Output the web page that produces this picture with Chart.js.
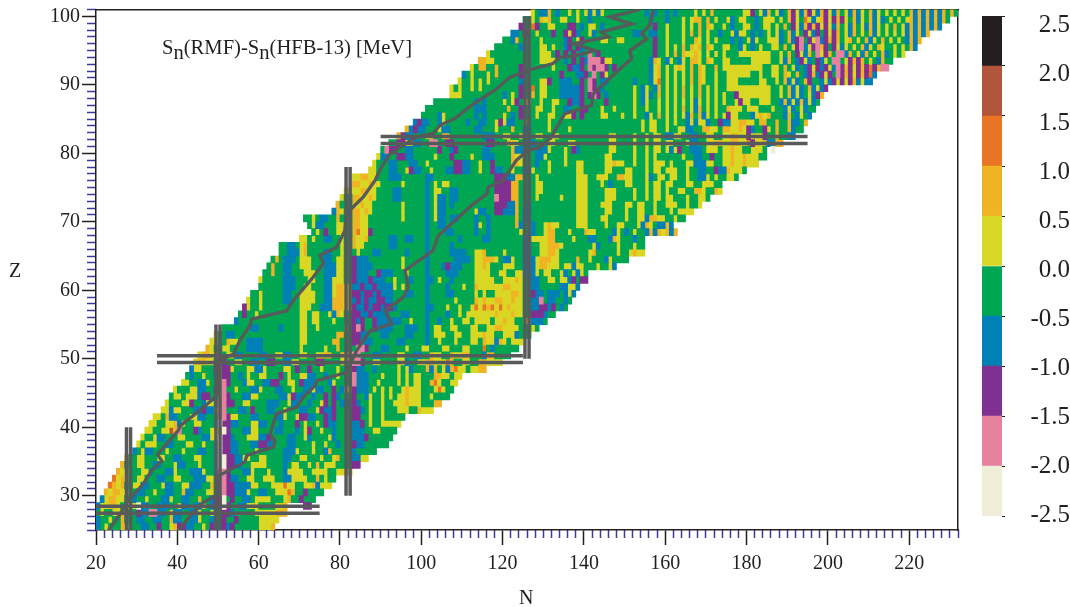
<!DOCTYPE html>
<html>
<head>
<meta charset="utf-8">
<title>Sn(RMF)-Sn(HFB-13)</title>
<script src="https://cdn.jsdelivr.net/npm/chart.js@4"></script>
<style>
  body { margin: 0; background: #fff; }
  canvas { position: absolute; top: 0; }
  #chartMain { left: 0; }
  #chartBar { left: 975px; }
  .lbl { position: absolute; font-family: "Liberation Serif", serif; color: #231f20; white-space: nowrap; line-height: 1; }
  .lbl sub { font-size: 1em; vertical-align: -5px; line-height: 0; }
</style>
</head>
<body>
<canvas id="chartMain" width="975" height="607"></canvas>
<canvas id="chartBar" width="95" height="607"></canvas>
<div class="lbl" style="left:162px;top:37px;font-size:20.6px" id="note">S<sub>n</sub>(RMF)-S<sub>n</sub>(HFB-13) [MeV]</div>
<div class="lbl" style="left:519px;top:587px;font-size:20px">N</div>
<div class="lbl" style="left:9px;top:260px;font-size:20px">Z</div>
<script>
// colour classes, lowest first
const classCodes = ["w", "p", "v", "b", "g", "y", "o", "r", "s", "k"]
const classEdges = [-2.5, -2.0, -1.5, -1.0, -0.5, 0.0, 0.5, 1.0, 1.5, 2.0, 2.5]
const classColors = ["#f0eed8", "#e5829f", "#7f3090", "#0080b4", "#00a651", "#d8d824", "#f0b323", "#e87524", "#b1553b", "#231f20"]

const firstZ = 25
// one row per Z: "Nc" means class c starts at neutron number N, "_" is an empty cell
const rowRuns = [
"20b 21g 22y 23g 26o 27y 28g 31b 33g 35v 36g 38y 39o 40v 42b 44g 46y 47g 48v 49g 50b 51v 52b 53v 54g 60y 63o",
"20b 21g 23y 24g 26o 27g 30b 32g 34b 36g 38o 39b 41g 43b 45y 46g 48b 49g 51v 52g 54v 55g 60y",
"20g 21y 22g 24y 26o 27g 30v 31b 33p 35b 37g 38o 39b 41g 43b 45y 46g 48y 49g 51v 53b 54g 59y 64o",
"20b 21y 23o 25y 26g 27o 28y 30w 31b 33g 35b 38g 40o 41b 43g 44b 46o 47g 48b 49v 51w 52v 53g 55b 57y 60g 64y 66o 67_ 71v",
"21b 22y 23o 25y 27g 29b 30g 32y 33g 36b 38y 39g 41b 43g 45o 46g 48b 49v 51w 52g 53v 54g 56b 58g 59y 63g 66y 67o 68g 70v 71g",
"22o 23y 24o 26y 28g 30b 32g 34y 35g 37b 39g 41o 42b 44g 47y 49g 50p 52v 54b 57y 58g 60b 62g 64y 67r 68o 69g 71v 72g",
"23r 24o 25y 26o 27g 29y 31b 33g 36y 37b 39g 41y 43b 46g 48o 49g 50p 52v 54b 58y 60g 63y 66r 67y 69g 71y 73o 74b 75y",
"24r 25y 26o 27y 28g 30y 32g 35b 37g 39y 41g 44b 47y 49g 50p 52v 53b 55g 57y 59g 61y 64g 66b 68y 72g 74o 75g 76y 77g",
"25o 26y 27o 28g 31y 33b 34g 37b 39y 40g 43b 46y 47g 49b 50p 52v 53g 56b 58y 59g 62y 63g 66b 67y 71g 73y 77g 79y 81o",
"26o 27g 30y 32g 34b 36g 39y 40b 42g 45y 46g 49b 50w 52v 54b 56g 58y 62g 66b 67g 68y 70g 72y 73g 74o 75g 76y 79g 83v",
"27y 28g 30y 32g 35y 37g 39b 41g 44y 46g 49b 50w 52v 54b 56y 58g 60y 62g 66b 68g 70y 72g 75y 76g 78y 79o 80g 83b 85y",
"29b 30g 31y 32b 34g 37y 38g 41y 42g 45b 47g 49b 50w 51v 53b 55g 59y 60g 66b 69y 70g 73y 74g 76b 77o 78g 83b 84g",
"30y 31g 32y 35g 37b 39g 42y 44g 46y 47g 49b 50w 51v 53b 55g 58b 60v 62b 64g 67b 69g 73y 74g 76y 77g 79b 80g 83v 84b 86g",
"31y 32g 34y 35b 37g 40y 42g 46b 48y 50w 51v 53b 54g 57y 60b 62v 63g 67b 69g 71y 72b 73g 77y 78b 79g 83b 86v 87g",
"32y 34g 36y 38s 39o 40p 41g 44v 45b 46g 48y 50o 51w 52v 53g 56b 58y 60g 64b 66g 69b 70g 71y 72v 73g 75y 76g 78b 79g 83b 86g 88y 90g",
"33y 35g 37y 39o 40b 41y 42g 44y 46g 49b 50w 51v 53b 55g 58y 60b 62g 65b 66g 69v 70g 71y 72g 74y 75g 76v 77b 79g 83b 85v 86g 87y 88g 90y",
"34y 36g 37o 38b 40g 43y 45b 47g 50p 52v 53y 55g 58b 60g 64b 66y 67g 69y 70v 72b 74g 76v 77b 78v 79g 83v 85g 87y 88g 90y 91g",
"36y 38b 39y 41g 44b 46v 47b 49y 50p 52g 55b 57g 58v 59g 62b 64g 66y 67g 70b 72g 74y 75v 76b 78v 79g 83v 85b 86g 87y 88g 90y 91g 94y 97g 99o 100y",
"37y 38g 41y 43v 44g 46b 47y 49g 50p 52v 54g 56y 58g 62b 65g 67y 68b 70g 72b 73g 75y 76v 77g 78v 79g 80b 83v 84b 85g 87y 88g 90y 91g 93y 96o 97y 100g 103o",
"38g 39y 41g 42y 45b 46v 48g 50o 51p 52v 53g 56b 58y 60g 65b 67y 68v 69b 71g 73b 74g 76v 77g 78v 79b 80g 83v 84g 86b 87y 88g 90y 91g 92y 93g 94y 96o 97y 100g 102y 103g",
"39y 40g 43y 45b 47g 49v 50o 51p 52g 54y 55g 58b 60y 61g 64b 66g 68y 69g 71b 73y 74b 76g 78v 79g 80b 81y 83v 84b 87g 88y 89g 90y 91g 92y 93g 95y 96o 97y 100g 103y 104r 105y 106g",
"41y 43g 45b 47y 48g 50o 51p 52v 53g 56b 57y 59g 61b 63v 65g 67y 69g 70v 71b 74g 77b 78y 79g 83p 84b 87g 89y 90g 94y 95g 96y 97g 98y 100g 102o 103r 104y 105g 107y",
"42g 43b 44g 46y 47g 49b 50o 51v 53g 55b 56g 57y 58g 60y 62g 65v 66g 67y 68g 70y 72b 74g 76b 77g 79y 80g 83p 84b 87g 90y 91g 94y 95g 96y 97g 98y 100g 103o 105y 107g 108y",
"43b 44y 46g 49v 50o 51v 53y 54g 57y 59b 61y 62g 66y 68g 69v 70g 72v 73g 75y 76g 79y 80g 83v 84b 86g 88b 89g 94y 95g 96y 97b 98g 101o 102b 103o 104g 105y 106b 107o 108r 109y 111g 112y 114o",
"44y 45o 47y 49b 50v 52g 54y 56g 58b 60g 62v 64g 66b 68y 70g 74v 76g 80y 82o 83p 85v 86g 88y 90g 94y 96b 97g 99y 101o 103y 106r 107o 108g 110y 112g 114o 116y",
"45y 46o 48y 50g 52y 54b 56g 60b 62g 64y 66b 68g 70y 72g 74y 76o 78g 80o 82y 83p 85g 88b 90g 94y 96g 98b 100g 102o 103y 105g 107o 108y 110o 112g 115b 116o 118g",
"47o 48y 49g 51y 53g 57b 61g 70y 71g 76y 77g 79o 80g 83g 84p 86v 87g 90b 92g 96y 97g 100y 102g 105y 107g 110y 112g 115r 116g 117b 118g",
"48y 50g 52o 53y 55g 57b 61g 70y 72g 78o 80g 83v 85g 86b 88g 94b 96g 101b 102g 104y 105g 108y 109g 112y 114g 115o 116y 118b 119o 120y 121g 122y",
"49y 50g 52b 54g 70y 72g 79o 81g 83v 85b 87g 90b 92g 96b 98g 101b 102g 103y 106g 108y 110g 112y 115o 116y 118g 120y 123b 124g",
"51g 58b 60g 65b 66g 70y 72g 74y 75g 81o 82g 83v 84p 85v 86g 88v 89b 93g 96b 99g 101b 102g 103y 105g 107y 109g 112y 114g 116y 118o 120y 124g 127y 128g",
"54b 55g 70y 72g 73y 75g 78y 79g 83v 84b 85v 86g 88v 89b 95g 97y 98g 101b 102g 104b 105g 107y 108g 110y 112g 113y 117g 118y 120o 121y 123g 125o 127b 130g",
"55g 56v 57g 59y 60g 70y 72g 73y 75g 77y 78b 79o 80y 81g 83v 85b 87v 88b 92g 95b 97g 101b 102g 106b 107g 109y 110g 111y 118o 119y 122o 123y 125g 127v 130b 131g",
"56v 57y 58g 60y 61g 70y 73g 75b 78o 81y 83v 84b 86v 87b 88v 90b 91v 93b 94g 101b 103g 106y 107g 109y 110g 112y 113r 114y 115r 116o 117r 118y 119r 120y 121o 122y 125g 127b 129v 131b 132v 133g 134b 135g",
"57y 58g 60y 61g 66b 68g 70y 74g 76b 78o 81y 83b 84v 85b 86v 87b 89v 91b 93g 101b 102g 108y 109g 113o 114y 115o 116y 118o 120y 122o 123y 125g 127b 129p 130g 131b 133g 135b 136g",
"58g 60y 61g 66b 68g 70y 74g 76b 78y 79o 81y 83v 85b 86v 88b 89v 90b 93g 96b 98g 101b 102g 106b 108g 113y 114g 115y 116g 118y 122o 124y 125g 127v 128b 130g 131b 134g 135b 136y 137b",
"60g 66b 69g 71y 73g 76b 78y 79o 81y 83b 85v 86b 88v 89b 93y 94g 95y 96g 101b 102g 106b 107g 110y 111g 113o 114y 120o 122y 125g 127b 129g 134b 136y 138b",
"60y 61g 66b 69g 72y 74g 76b 78y 81g 83v 84b 87v 88b 91g 93y 94g 97b 98g 101b 103g 104y 105g 107b 108g 113y 118g 120y 123o 124y 125g 127b 129g 131y 133g 134y 136b 137v 138g 139v",
"61g 63o 64g 66b 68g 71y 74g 76b 79y 81g 83v 84b 87g 89v 90b 93g 96y 97g 101b 102g 106b 109g 113y 117g 119y 121g 123y 125b 128y 129g 130y 132g 134y 135b 136g 137y 138b 139y 140g",
"62g 63o 64g 66b 68g 70y 73g 76b 79y 81g 83v 84b 88g 95y 96g 101b 102g 105b 106v 107b 110g 113y 115o 116y 117g 120y 123g 125b 128y 129o 131y 134g 135y 137b 138y 140g 143y 144g 146y 147b",
"63g 64o 65g 66b 69g 70y 73g 76b 78g 79y 81g 83v 84b 87g 95y 96g 101b 102g 108b 112g 113y 115o 118y 119g 120b 122y 123g 125b 128y 129o 132y 134g 138o 139g 141y 142g 145b 146y 147g",
"65g 67b 70y 71o 72g 76b 78g 80y 81g 84y 85g 88b 90g 96b 97g 101b 102g 107b 111g 113y 115o 116g 120y 121g 125b 127g 129y 131o 133y 134g 141y 142o 143g 148y 149g 151y 152o 153y",
"65g 67b 69g 70y 71o 72g 80y 81g 83o 84y 86g 92b 94g 101b 102g 107b 108g 125b 127g 129y 131o 134y 135g 142y 143b 144g 148y 149g 152y 153g",
"70y 72g 73y 74g 76b 78g 80y 81g 83o 84y 86o 87g 92b 94g 96b 98g 101b 102g 109b 110g 115b 117g 125b 127y 131o 133g 137y 138g 141b 143g 146b 147o 148y 149g 152b 153g",
"73g 74y 75g 76v 77g 79y 81g 83o 84r 85y 87v 88g 101b 102g 106b 108g 113b 114g 116b 117g 124y 125g 127b 128g 130y 131o 133g 136y 137g 140o 141y 143g 147b 148y 149g 150b 151g 152y 153g 155b 156o 157b 158o 159y 160o 161b 162o",
"72g 73y 74b 76g 79y 81g 83o 85y 87g 101b 102g 104b 106g 113b 114y 115g 116b 117g 123o 124b 125g 127b 128g 130y 131o 132y 134g 138y 141g 145y 146g 148y 150g 153y 154b 155o 156y 157g 158b 160o 161b",
"71g 73y 74g 75b 77g 79o 80g 83o 85y 87g 95y 96g 101b 102g 103y 104b 106g 107b 109g 113b 114g 116b 117g 123o 124g 125b 127g 138y 141g 144y 146g 150y 151g 153y 155b 156o 158y 160g 162y 163g",
"78b 79o 80y 81g 83o 85y 86o 87y 88g 95y 96g 101b 102g 103y 104b 106g 113y 114b 116g 118v 120b 123o 124g 125b 127g 138y 141g 145y 147g 150y 151g 153y 155g 157y 158g 161y 162g 163y",
"79o 80g 83o 84y 85o 86y 88g 95y 96g 101b 102g 103y 104b 106g 107b 108g 118v 121b 123o 124g 126b 127g 138y 141g 144y 147g 150y 152g 153y 155g 157y 158g 160y 163g 165y 166g 168y",
"80y 81g 83o 85y 87o 88y 89g 93b 95g 101b 102g 103y 104b 106g 107b 109g 118p 119v 122o 124g 128y 129g 134y 135g 138y 141g 145y 148g 152y 153g 155y 156g 157y 159g 160y 162g 165y 166g 168y 170g",
"81y 82o 83y 85o 87y 89g 93b 95g 101b 102g 103y 105g 107b 109g 118v 122o 124g 128y 130g 138y 141g 145y 148g 152y 153g 155y 156g 157y 159g 160y 161g 163y 165g 167o 169y 170g 172o 173y",
"83o 85y 87o 88y 90g 95y 96g 101b 102g 103y 104g 105y 107g 118v 122o 124g 128y 130g 138y 141g 144y 145g 146b 147g 150y 152g 155y 156g 157y 159g 160y 162g 165y 167g 169y 172g",
"83y 85o 87y 89g 92b 95g 101b 103g 118v 121b 123o 125g 128y 129g 134g 138y 141g 143y 146g 148o 150y 152g 155y 156b 157g 158y 160g 161y 163g 165y 166g 168b 170y 171g 172y 173g 175y 177g",
"87y 89g 92b 94g 96y 97v 98b 100g 102y 103g 106b 108v 110b 112g 114y 115g 117v 118b 120g 122y 123g 125b 127y 128g 131y 132g 138y 140g 145y 147g 150y 152g 155y 156g 157y 159g 160y 163g 165y 166g 168b 170g 172v 173b 175o 176y 179g",
"88y 89g 92b 94g 97b 99g 101y 102g 105g 108v 110b 112g 114y 115g 117v 118g 122o 124y 125g 128b 129g 131y 132g 135y 136g 138y 140g 145y 147o 148y 150g 152y 153g 155y 156g 157y 160g 161y 162g 165y 167b 170y 172g 174y 176o 177y 179o 180y",
"89y 90b 92g 94v 96b 98g 103y 104g 107v 108g 112y 113g 115b 118g 122o 123y 125g 128b 130y 131g 135y 136g 145y 147g 152y 153g 155y 156g 157y 158g 161g 164y 165g 167b 169g 171v 172g 174y 176o 177y 179o 180y 183g",
"90g 91p 92v 94g 96b 98g 104v 105g 107b 108v 109g 115b 117g 122o 123b 125g 128b 131y 132g 135y 136g 137v 138b 139g 146y 148g 152y 153g 155y 156g 157y 159g 160y 161b 162y 163v 164g 166b 169g 170y 173g 174y 176o 177y 179g 181y 184g 185_ 186w",
"92g 94v 96y 98b 100g 102p 104g 106v 108g 116v 118g 121o 122y 124g 126b 128g 131y 133g 136y 138g 146y 148g 152y 153g 155y 156g 157y 159g 160y 162g 165y 166b 168g 170y 172o 174y 176o 178y 180r 181v 182y 184o 185b 187o",
"94o 95v 96b 98g 101y 103g 105o 107g 115b 118g 120y 122g 124o 125g 128y 130g 132y 134g 146y 148g 152y 153g 155y 156g 157y 159g 160b 162y 164g 166b 168g 170y 172g 174y 176o 178y 180v 181y 184v 185g 187o 188g 190b",
"96o 97b 98v 99b 101g 104y 105b 107g 113b 115g 118y 119g 122o 123g 125b 127g 131y 132g 136y 137g 154y 155g 156y 158g 160y 161g 163y 165b 167g 169o 171y 173g 174o 176y 178o 179y 180v 181b 182g 184v 185y 186g 187o 188g 190o 191b 192g",
"98b 99v 100b 102g 104b 105y 106g 111b 112g 114b 116g 118y 119v 120y 121b 123g 125o 126g 131y 132g 142g 154y 155g 156y 158g 160y 161g 162y 163g 165b 166y 167b 168y 170b 171g 173v 174b 176y 178o 180y 182g 183o 185g 187o 188g 190o 191b 193g 194o",
"100g 104b 105y 106g 113b 114g 115b 116g 120y 121g 122b 123g 124v 125g 128y 129g 131y 133g 135y 137v 138g 139v 140g 144y 146g 149y 150g 152y 153g 155b 156y 157g 158o 159g 160y 161g 162y 163g 164y 165b 166o 167g 168o 169b 170y 171g 172y 173g 174y 175v 176y 178g 181b 182y 183o 184y 185o 186g 189b 190o 191g 192b 193y 194g 195b",
"101g 113b 116g 121o 122g 124v 125g 128y 130g 132y 133g 135b 137g 139v 141g 144y 145g 147y 148g 152y 153g 155y 156g 158y 159g 160y 161g 162y 163g 164o 165g 166y 167b 168o 169g 170y 171g 172y 173g 175o 176y 179g 180y 183g 186y 187g 189b 190y 191b 192g 193y 194b 195g",
"103g 113b 114g 115b 116g 120y 121g 122y 123v 124g 125o 127g 129y 130g 132y 134g 136v 137b 139v 140g 145v 146g 152y 153g 154b 155y 156g 158y 159g 160y 161g 162y 163g 164y 165g 166y 167b 168y 169g 170y 171g 172y 173g 174y 175g 177y 178v 179y 181g 183y 186g 188b 189o 190b 191y 192b 193o 194b 195y 196b 197g",
"107y 110g 120b 121g 122y 123g 124v 125g 127o 128g 129y 131g 134b 139v 140g 141v 142p 143v 144g 145b 146g 152y 153g 154b 155y 156b 157g 158o 159g 160y 161g 162y 163g 164o 165g 166y 167g 168o 169g 170y 171g 172y 173g 174y 175g 177v 178y 186g 188y 189g 190o 191b 192y 193b 194g 195y 196b 197v 198o",
"107y 108g 109y 110g 112y 113g 114y 115g 124v 125g 127r 128g 129y 131g 134b 139v 140g 141p 142v 143g 144b 145g 152y 153g 154b 155y 156g 157b 158o 159g 160y 161g 162y 163g 164o 165g 166y 167g 168o 169g 170y 171g 172y 173g 175y 186g 188y 189g 190o 191b 192y 193b 194g 195o 196b 197y 198b 199v",
"109y 110g 112y 113g 114y 115g 116y 117g 124b 125g 129y 131v 132g 134b 137g 139v 140g 141p 142v 143g 144b 146g 152b 153g 156b 157y 158r 159g 160y 161g 162y 163g 164y 165g 166o 167g 168o 169y 170g 172y 173g 175y 178g 183y 185g 187y 188g 189o 190b 191y 192b 193g 194o 195v 196g 198b 199y 200b 201v 202y 203v 204y 205v 206o 207b 208y 209b",
"110b 111g 112y 113g 116y 117g 118o 119g 124v 125g 134v 135g 138b 140v 141g 142p 143g 144v 145y 146g 156b 157y 158o 159g 160y 161g 162y 163g 164y 165g 166o 167g 168o 169y 170g 172y 173g 175y 181g 183y 184g 186y 188g 189o 190y 191g 192o 193g 194b 195v 196o 197b 198v 199y 200v 201g 202p 203v 204o 205v 206y 207v 208o 209v 210r 211b",
"112y 113g 114o 116g 118o 119g 124v 125g 132y 133g 136v 137b 139v 140g 141p 142v 143p 145v 146g 147v 148g 156b 157y 158o 159g 160y 161g 162y 163o 164y 165g 166o 167g 168o 169y 170g 172o 173g 174y 181y 184g 186y 188g 189o 190g 191y 192b 193g 194b 195v 196y 197v 198b 199v 200y 201b 202p 203v 204o 205v 206y 207v 208o 209v 210r 211v 212o 213p",
"114o 116y 118g 129y 133g 135b 136g 137v 138g 139v 140b 141p 144v 145y 147g 156b 157o 158y 159g 160b 161y 162g 163b 164y 165g 166o 168y 169g 170o 171y 172g 174y 176g 181y 186g 188y 189b 190o 191g 192b 193v 194y 195b 196g 197v 198b 199y 200g 201p 203g 204y 205v 206o 207v 208o 209g 210y 211g 212b 213o 214g",
"116y 117g 129y 132g 133v 134g 135v 136g 137v 138g 139b 140g 141p 142g 143v 144g 157v 158g 160y 161g 162o 163g 164o 165y 167o 168y 169g 170y 171g 172y 173g 174y 175g 178y 186g 188y 189g 190o 191g 192v 193y 194b 195o 196g 197p 198y 199v 200o 201g 202p 204b 205o 206g 207y 208b 209o 210g 211y 212g 213o 214b 215g 216y 217g 218y",
"118g 124b 125g 129y 131g 132y 133g 135b 136v 137g 138v 139b 140g 157v 158g 160y 161g 162y 163g 164o 165g 166o 167y 168o 169g 170o 171y 172g 174y 176g 178b 179y 180g 181b 182g 183y 184g 186y 188g 189o 190g 191y 192v 193p 194b 195y 196v 197p 198o 199v 200g 201v 202y 203b 204y 205g 206y 207g 208o 209b 210y 211g 212o 213y 214g 216y 217g 218y 219g 220o 221b",
"120g 122b 123o 124g 129y 130g 135b 136v 137g 138y 139v 140g 144y 146g 148y 150g 157v 158g 160y 161g 164y 165g 167o 168y 169g 170y 171g 172y 173g 176b 177g 178b 179g 180y 181b 182y 183g 185y 188b 189g 190o 191b 192v 193p 194g 195v 196y 197p 198b 199v 200o 201v 202o 203g 204y 205o 206g 207y 208g 209o 210b 211y 212g 213o 214g 215y 216g 217y 218g 219b 220o 221b 222o",
"122b 124g 125v 126g 128y 129g 132v 133g 135v 136y 137v 138b 139g 141y 142b 143g 152b 154g 156b 158g 160y 161g 164y 165g 166o 167g 168o 169g 170y 171g 173b 174g 176y 177b 178y 180g 181b 182g 183b 184g 185y 186g 187y 188b 189g 190o 191b 192y 193g 194v 195y 196b 197v 198g 199v 200y 201v 202o 203g 204y 205b 206o 207g 208y 209g 210o 211b 212y 213g 214y 215g 216y 217g 218y 219b 220o 221b 222o 223b 224o",
"124v 125g 127r 128v 129g 131y 133g 136v 138g 139b 140g 141y 143g 144b 145g 157v 158g 160y 161g 164y 165g 166y 167g 168o 169g 170o 171y 172g 174y 175g 176b 177g 179y 181g 182b 183g 184y 186g 187y 188g 189o 190g 191v 192y 193b 194o 195v 196o 197v 198y 199v 200y 201b 202o 203g 204y 205b 206o 207g 208y 209b 210o 211b 212y 213g 214y 215g 216o 217g 218y 219b 220o 221b 222o 223b 224o 225b 226o 227b",
"125g 127y 128g 129o 130y 131o 132g 134y 136g 138y 139g 141b 142g 156b 157g 160b 161g 164y 165g 166y 167o 169g 170o 171g 172y 173g 175y 176b 177g 178y 180g 182b 183g 184y 187g 188y 189g 190o 191v 192y 193g 194r 195y 196b 197y 198o 199v 200y 201v 202o 203v 204y 205g 206o 207b 208y 209g 210o 211b 212y 213b 214g 215y 216g 217y 218g 219y 220o 221b 222o 223b 224o 225b 226o 227b 228o 229g",
"127y 128g 129b 131o 132g 133b 134g 136y 137g 138y 139g 140y 141b 142y 143b 144y 145g 155b 156g 157b 158g 160b 161g 162b 163g 167y 168g 169y 170g 171o 172g 179y 181v 182g 183y 184b 185o 186g 187y 188b 189g 190o 191v 192y 193b 194o 195v 196y 197b 198o 199v 200y 201b 202o 203g 204y 205b 206o 207b 208y 209g 210o 211b 212y 213g 214y 215g 216y 217g 218y 219g 220o 221b 222o 223b 224o 225b 226o 227b 228o 229g 230o 231g"
]
// neutron number where each row stops
const rowEnds = [64,65,67,73,74,76,78,79,83,85,87,89,92,93,94,95,96,103,105,107,108,109,110,116,120,122,124,125,127,129,131,133,136,137,138,139,141,141,148,151,155,155,155,163,162,165,167,169,171,174,174,178,180,183,185,187,189,192,194,195,196,197,198,199,200,211,212,215,216,219,222,223,225,228,230,232]

// the two curves, as [N, Z]
const curveUpper = [[23,24.9],[25.9,27.3],[27.9,29.3],[31.6,31.7],[33.7,33.7],[36.2,35.1],[35.1,36],[37.4,37.6],[40.2,39.5],[40.7,40.2],[43.9,41.7],[48.8,44.1],[49.8,44.8],[50.1,48.8],[51.3,50],[53.8,50.7],[55.4,52.7],[57.9,54.9],[58.3,55.8],[66.9,57],[68.5,58.5],[73.4,61.9],[75.9,63.9],[75.1,65.1],[79.2,66.3],[81.2,68.7],[81.6,71.2],[85.7,73.6],[88.6,76],[90.2,78],[92.3,79.9],[95.6,81.2],[98.9,82.4],[102.9,82.9],[104.6,84.1],[108.3,85.1],[112.8,87.2],[118.5,89.4],[121.8,91.1],[126.7,92.2],[132.4,93.1],[134.1,94],[137.4,94.2],[142.7,95],[137.4,96],[146,97],[144.3,97.7],[151.7,98.9],[146.4,99.9],[153.8,101]]
const curveLower = [[40.2,24.9],[43.5,27.3],[46.4,29],[50.1,30.3],[50.1,32.9],[56.6,34.9],[57.1,35.9],[63.6,37.1],[64,38.1],[62.8,39],[64.4,42],[69.3,42.9],[71,44.4],[73.9,46.1],[74.3,46.8],[81.6,48],[84.1,51.2],[87.4,54.1],[92.7,55.1],[91.1,57],[95.6,59],[96.8,60.5],[96,62.9],[102.9,65.8],[104.2,68],[108.3,70.2],[112.4,72.4],[116.1,74.1],[116.5,75.1],[120.1,76],[123.4,79],[126.3,80.4],[129.2,80.9],[132,82.4],[135.3,85.8],[141.9,87],[142.3,88.7],[148.4,92.1],[151.7,93.8],[151.3,95],[155.4,96.7],[154.2,97.5],[156.2,98.7],[157,101]]

// magic number double lines: [Z, N from, N to] and [N, Z from, Z to]
const magicZ = [[28.45,20,75],[27.45,20,75],[50.45,35,125],[49.45,35,125],[82.45,90,195],[81.45,90,195]]
const magicN = [[27.5,25,40],[28.5,25,40],[49.5,25,55],[50.5,25,55],[81.5,30,78],[82.5,30,78],[125.5,50,100],[126.5,50,100]]

const xTicks = [20,40,60,80,100,120,140,160,180,200,220]
const yTicks = [30,40,50,60,70,80,90,100]
const barTicks = [2.5,2.0,1.5,1.0,0.5,0.0,-0.5,-1.0,-1.5,-2.0,-2.5]

const serif = "'Liberation Serif', serif"
const inkColor = "#231f20"
const minorColor = "#3a3a9e"
const lineGray = "#58595b"

// setup
const cells = classCodes.map(() => [])
rowRuns.forEach(function (row, r) {
    const tokens = row.split(" ")
    for (let i = 0; i < tokens.length; i++) {
        const start = parseInt(tokens[i])
        const code = tokens[i].slice(-1)
        const stop = i + 1 < tokens.length ? parseInt(tokens[i + 1]) : rowEnds[r]
        const c = classCodes.indexOf(code)
        if (c >= 0 && stop > start) {
            cells[c].push({ x: [start, Math.min(stop, rowEnds[r])], y: firstZ + r + 0.5 })
        }
    }
})

const datasets = cells.map(function (data, c) {
    return {
        type: "bar",
        indexAxis: "y",
        xAxisID: "x",
        yAxisID: "y",
        data: data,
        backgroundColor: classColors[c],
        borderWidth: 0,
        barThickness: 7,
        grouped: false,
        order: 2
    }
})

function addLine(points, width) {
    datasets.push({
        type: "scatter",
        showLine: true,
        xAxisID: "x",
        yAxisID: "y",
        data: points.map(p => ({ x: p[0], y: p[1] })),
        borderColor: lineGray,
        borderWidth: width,
        pointRadius: 0,
        tension: 0,
        order: 1
    })
}
magicZ.forEach(m => addLine([[m[1], m[0]], [m[2], m[0]]], 3.5))
magicN.forEach(m => addLine([[m[0], m[1]], [m[0], m[2]]], 3.5))
addLine(curveUpper, 3.3)
addLine(curveLower, 3.3)

function noPadding(s) {
    s.paddingTop = 0
    s.paddingBottom = 0
    s.paddingLeft = 0
    s.paddingRight = 0
}

function frameAxis(position, min, max) {
    return {
        type: "linear",
        position: position,
        min: min,
        max: max,
        ticks: { display: false },
        grid: { drawOnChartArea: false, drawTicks: false },
        border: { color: inkColor, width: 1.5 }
    }
}

// config
const config = {
    data: { datasets: datasets },
    options: {
        responsive: false,
        animation: false,
        layout: { padding: { top: 9.5, right: 17 } },
        plugins: { legend: { display: false }, tooltip: { enabled: false } },
        scales: {
            x: {
                type: "linear",
                position: "bottom",
                weight: 1,
                offset: false,
                min: 20,
                max: 232,
                afterBuildTicks: s => { s.ticks = xTicks.map(v => ({ value: v })) },
                afterFit: s => { s.height = 77; noPadding(s) },
                ticks: { autoSkip: false, maxRotation: 0, padding: 7, color: inkColor, font: { family: serif, size: 20 } },
                grid: { drawOnChartArea: false, offset: false, tickLength: 15, tickColor: inkColor, tickWidth: 1.5 },
                border: { color: inkColor, width: 1.5 }
            },
            y: {
                type: "linear",
                position: "left",
                weight: 1,
                offset: false,
                min: 25,
                max: 101,
                afterBuildTicks: s => { s.ticks = yTicks.map(v => ({ value: v })) },
                afterFit: s => { s.width = 96; noPadding(s) },
                ticks: { autoSkip: false, padding: 2, color: inkColor, font: { family: serif, size: 20 } },
                grid: { drawOnChartArea: false, offset: false, tickLength: 14, tickColor: inkColor, tickWidth: 1.5 },
                border: { color: inkColor, width: 1.5 }
            },
            xMinor: {
                type: "linear",
                position: "bottom",
                weight: 0,
                min: 20,
                max: 232,
                afterFit: s => { s.height = 0; noPadding(s) },
                ticks: { display: false, autoSkip: false, stepSize: 2 },
                grid: {
                    drawOnChartArea: false,
                    tickLength: 8,
                    tickWidth: 1.5,
                    tickColor: c => xTicks.includes(c.tick.value) ? "rgba(0,0,0,0)" : minorColor
                },
                border: { display: false }
            },
            yMinor: {
                type: "linear",
                position: "left",
                weight: 0,
                min: 25,
                max: 101,
                afterFit: s => { s.width = 0; noPadding(s) },
                ticks: { display: false, autoSkip: false, stepSize: 1 },
                grid: {
                    drawOnChartArea: false,
                    tickLength: 9,
                    tickWidth: 1.5,
                    tickColor: c => yTicks.includes(c.tick.value) ? "rgba(0,0,0,0)" : minorColor
                },
                border: { display: false }
            },
            xTop: frameAxis("top", 20, 232),
            yRight: frameAxis("right", 25, 101)
        }
    }
}

// render init block
const mainChart = new Chart(document.getElementById("chartMain"), config)

// colour bar
const barSets = classColors.map(function (color, c) {
    return {
        data: [[classEdges[c], classEdges[c + 1]]],
        backgroundColor: color,
        borderWidth: 0,
        barPercentage: 1,
        categoryPercentage: 1,
        grouped: false,
        yAxisID: "y"
    }
})

const barConfig = {
    type: "bar",
    data: { labels: [""], datasets: barSets },
    options: {
        responsive: false,
        animation: false,
        layout: { padding: { top: 16, bottom: 91, left: 7 } },
        plugins: { legend: { display: false }, tooltip: { enabled: false } },
        scales: {
            x: { display: false },
            y: {
                position: "right",
                weight: 0,
                min: -2.5,
                max: 2.5,
                afterBuildTicks: s => { s.ticks = barTicks.map(v => ({ value: v })) },
                afterFit: s => { s.width = 3; noPadding(s) },
                ticks: { display: false },
                grid: { drawOnChartArea: false, tickLength: 3, tickColor: inkColor, tickWidth: 1 },
                border: { display: false }
            },
            yLabels: {
                position: "right",
                weight: 1,
                // label column runs a little tighter than the ticks
                min: -2.51,
                max: 2.592,
                afterBuildTicks: s => { s.ticks = barTicks.map(v => ({ value: v })) },
                afterFit: s => { s.width = 65; noPadding(s) },
                ticks: {
                    padding: 18,
                    crossAlign: "far",
                    color: inkColor,
                    font: { family: serif, size: 25 },
                    callback: v => v.toFixed(1)
                },
                grid: { drawOnChartArea: false, drawTicks: false },
                border: { display: false }
            }
        }
    }
}
const barChart = new Chart(document.getElementById("chartBar"), barConfig)
</script>
</body>
</html>
